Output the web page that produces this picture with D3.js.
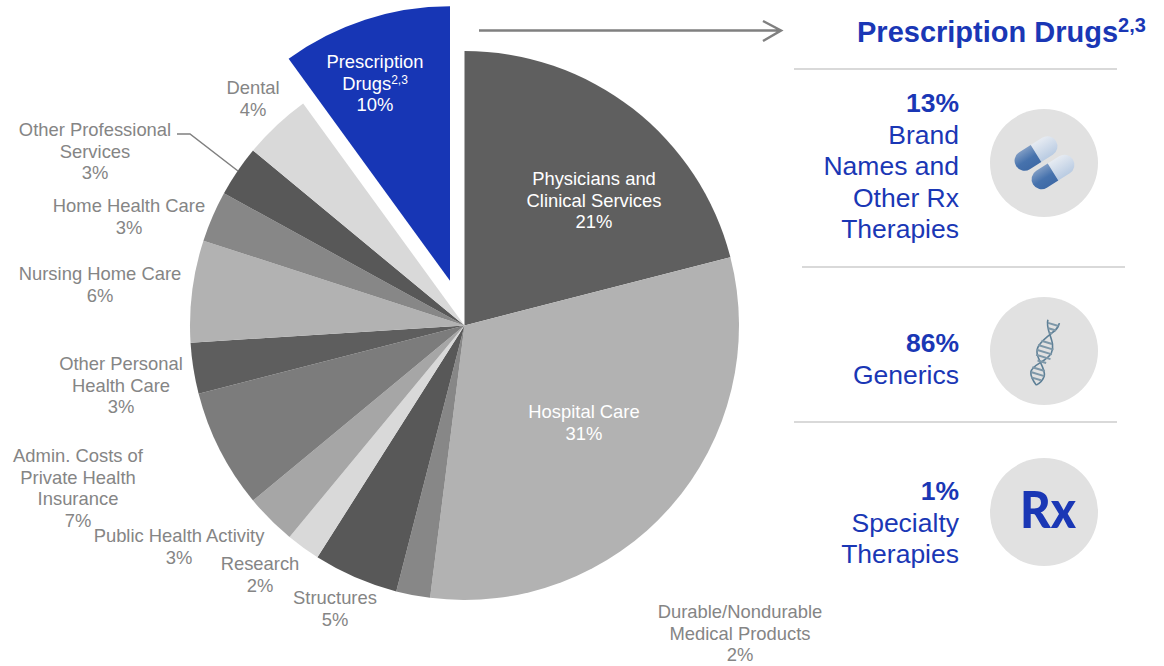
<!DOCTYPE html>
<html lang="en">
<head>
  <meta charset="UTF-8" />
  <title>Health care spending by category</title>
  <script src="https://cdn.jsdelivr.net/npm/d3@7/dist/d3.min.js"></script>
  <style>
    html, body { margin: 0; padding: 0; background: #fff; }
    svg { display: block; }
    text { font-family: "Liberation Sans", Arial, sans-serif; }
  </style>
</head>
<body>
  <div id="chart"></div>
  <script>
    // pie data, clockwise from 12 o'clock
    const categories = [
      "Physicians and Clinical Services", "Hospital Care", "Durable/Nondurable Medical Products",
      "Structures", "Research", "Public Health Activity", "Admin. Costs of Private Health Insurance",
      "Other Personal Health Care", "Nursing Home Care", "Home Health Care",
      "Other Professional Services", "Dental", "Prescription Drugs"
    ];
    const shares = [21, 31, 2, 5, 2, 3, 7, 3, 6, 3, 3, 4, 10];

    // right hand panel
    const drugShares = ["13%", "86%", "1%"];
    const drugNames = [
      ["Brand", "Names and", "Other Rx", "Therapies"],
      ["Generics"],
      ["Specialty", "Therapies"]
    ];

    const width = 1164, height = 666;
    const cx = 464.5, cy = 325.5, radius = 274.5;
    const explode = 47;

    const sliceColors = ["#5f5f5f", "#b2b2b2", "#878787", "#585858", "#d9d9d9", "#a6a6a6", "#7c7c7c",
      "#5e5e5e", "#b2b2b2", "#878787", "#585858", "#d9d9d9", "#1736b5"];
    const grey = "#858585", blue = "#1a37b5", white = "#fff";

    // label placement per category: centre x, first baseline y, lines
    const labelLayout = [
      { x: 594, y: 185, color: white, lines: ["Physicians and", "Clinical Services"] },
      { x: 584, y: 418, color: white, lines: ["Hospital Care"] },
      { x: 740, y: 618, color: grey, lines: ["Durable/Nondurable", "Medical Products"] },
      { x: 335, y: 604, color: grey, lines: ["Structures"] },
      { x: 260, y: 570, color: grey, lines: ["Research"] },
      { x: 179, y: 542, color: grey, lines: ["Public Health Activity"] },
      { x: 78, y: 462, color: grey, lines: ["Admin. Costs of", "Private Health", "Insurance"] },
      { x: 121, y: 370, color: grey, lines: ["Other Personal", "Health Care"] },
      { x: 100, y: 280, color: grey, lines: ["Nursing Home Care"] },
      { x: 129, y: 212, color: grey, lines: ["Home Health Care"] },
      { x: 95, y: 136, color: grey, lines: ["Other Professional", "Services"] },
      { x: 253, y: 94, color: grey, lines: ["Dental"] },
      { x: 375, y: 68, color: white, lines: ["Prescription", "Drugs"], sup: "2,3" }
    ];

    const svg = d3.select("#chart").append("svg")
      .attr("width", width)
      .attr("height", height);

    // pie
    const pie = d3.pie().sort(null).value(d => d);
    const arc = d3.arc().innerRadius(0).outerRadius(radius);
    const arcs = pie(shares);

    svg.append("g")
      .attr("transform", `translate(${cx},${cy})`)
      .selectAll("path")
      .data(arcs)
      .enter()
      .append("path")
      .attr("d", arc)
      .attr("fill", (d, i) => sliceColors[i])
      .attr("transform", (d, i) => {
        if (categories[i] !== "Prescription Drugs") return null;
        const mid = (d.startAngle + d.endAngle) / 2;
        return `translate(${explode * Math.sin(mid)},${-explode * Math.cos(mid)})`;
      });

    // pie labels
    const lineH = 21.5;
    labelLayout.forEach((l, i) => {
      const t = svg.append("text")
        .attr("text-anchor", "middle")
        .attr("font-size", 18.4)
        .attr("fill", l.color);
      l.lines.concat([shares[i] + "%"]).forEach((s, k) => {
        t.append("tspan").attr("x", l.x).attr("y", l.y + k * lineH).text(s);
        // dy, not y: an absolute y would break the centred chunk
        if (l.sup && k === 1) {
          t.append("tspan").attr("dy", -6).attr("font-size", 12).text(l.sup);
        }
      });
    });

    // leader line for Other Professional Services
    svg.append("path")
      .attr("d", "M177,134 H190 L238,171")
      .attr("fill", "none")
      .attr("stroke", "#808080")
      .attr("stroke-width", 1.5);

    // arrow to the panel
    svg.append("path")
      .attr("d", "M479,30.5 H780 M763,21 L781,30.5 L763,41")
      .attr("fill", "none")
      .attr("stroke", "#808080")
      .attr("stroke-width", 2.5);

    // panel title
    const title = svg.append("text")
      .attr("x", 857).attr("y", 42)
      .attr("font-size", 29).attr("font-weight", "bold").attr("fill", blue);
    title.append("tspan").text("Prescription Drugs");
    title.append("tspan").attr("dy", -10).attr("font-size", 20).text("2,3");

    // divider lines
    const dividers = [[794, 1117, 69], [802, 1125, 267], [794, 1117, 422]];
    svg.selectAll("line.divider")
      .data(dividers)
      .enter()
      .append("line")
      .attr("class", "divider")
      .attr("x1", d => d[0]).attr("x2", d => d[1])
      .attr("y1", d => d[2]).attr("y2", d => d[2])
      .attr("stroke", "#d9d9d9")
      .attr("stroke-width", 2);

    // panel rows: share in bold, names below, right aligned
    const rowY = [112, 352, 500];
    drugShares.forEach((s, i) => {
      const t = svg.append("text")
        .attr("text-anchor", "end")
        .attr("font-size", 26.5)
        .attr("fill", blue);
      t.append("tspan").attr("x", 959).attr("y", rowY[i]).attr("font-weight", "bold").text(s);
      drugNames[i].forEach((n, k) => {
        t.append("tspan").attr("x", 959).attr("y", rowY[i] + 31.5 * (k + 1)).text(n);
      });
    });

    // icon circles
    const iconY = [163, 351, 512];
    svg.selectAll("circle.icon")
      .data(iconY)
      .enter()
      .append("circle")
      .attr("class", "icon")
      .attr("cx", 1044).attr("cy", d => d).attr("r", 54)
      .attr("fill", "#e1e1e1");

    // pills
    const defs = svg.append("defs");
    const gradDark = defs.append("linearGradient").attr("id", "pillDark").attr("x1", 0).attr("x2", 0).attr("y1", 0).attr("y2", 1);
    gradDark.append("stop").attr("offset", 0).attr("stop-color", "#7f9cc4");
    gradDark.append("stop").attr("offset", 0.55).attr("stop-color", "#4672ad");
    gradDark.append("stop").attr("offset", 1).attr("stop-color", "#3f6aa6");
    const gradLight = defs.append("linearGradient").attr("id", "pillLight").attr("x1", 0).attr("x2", 0).attr("y1", 0).attr("y2", 1);
    gradLight.append("stop").attr("offset", 0).attr("stop-color", "#e6ebf2");
    gradLight.append("stop").attr("offset", 1).attr("stop-color", "#b9cbe2");

    function pill(x, y) {
      const g = svg.append("g").attr("transform", `translate(${x},${y}) rotate(-32)`);
      g.append("path").attr("d", "M0,-10 H13.5 A10,10 0 0 1 13.5,10 H0 Z").attr("fill", "url(#pillLight)");
      g.append("path").attr("d", "M0,-10 H-13.5 A10,10 0 0 0 -13.5,10 H0 Z").attr("fill", "url(#pillDark)");
    }
    pill(1036, 153.5);
    pill(1053, 172);

    // dna helix
    const dna = svg.append("g")
      .attr("transform", "translate(1044,353) rotate(17)")
      .attr("fill", "none");
    dna.append("path")
      .attr("d", "M-6,-33 C-6,-22 9,-14 7,-2 C5,8 -8,14 -7,22 C-6,27 -2,30 2,33 M6,-33 C7,-24 -2,-20 -7,-6 C-11,6 6,12 7,22 C7,26 5,30 2,33")
      .attr("stroke", "#5d7f96")
      .attr("stroke-width", 1.6);
    dna.append("path")
      .attr("d", "M-5,-30 H6 M-3,-25 H5 M-1,-21 H2 M-6,-11 H5 M-8,-6 H8 M-8,-1 H8 M-7,4 H8 M-4,9 H5 M-7,17 H6 M-7,22 H7 M-5,27 H5")
      .attr("stroke", "#7d97a8")
      .attr("stroke-width", 2);

    // Rx glyph
    svg.append("text")
      .attr("x", 1048).attr("y", 528)
      .attr("text-anchor", "middle")
      .attr("font-size", 52)
      .attr("font-weight", 900)
      .attr("textLength", 56)
      .attr("lengthAdjust", "spacingAndGlyphs")
      .style("font-family", "Lato, sans-serif")
      .attr("fill", blue)
      .text("Rx");
  </script>
</body>
</html>
